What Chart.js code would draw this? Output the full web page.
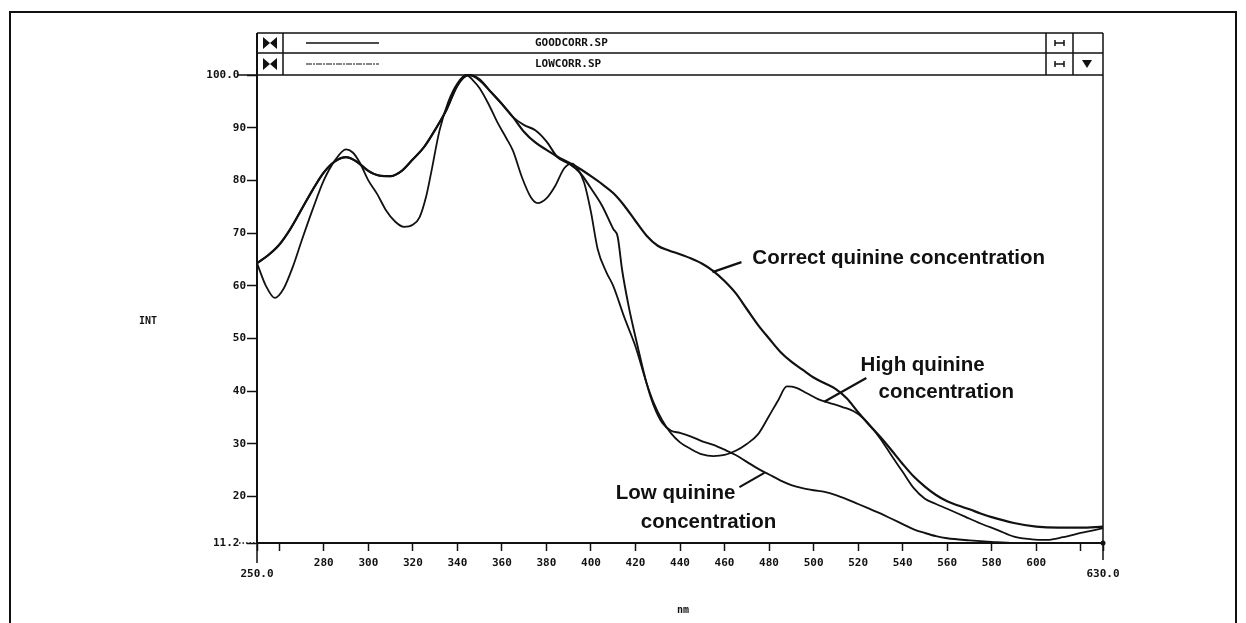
<!DOCTYPE html>
<html>
<head>
<meta charset="utf-8">
<title>Quinine spectra</title>
<script src="https://cdn.jsdelivr.net/npm/chart.js"></script>
<style>
  html, body { margin: 0; padding: 0; background: #fff; }
  #wrap { width: 1246px; height: 623px; position: relative; }
</style>
</head>
<body>
<div id="wrap"><canvas id="spectre"></canvas></div>

<script>
  // Spectres (nm -> INT)
  const nmGood = [250, 255, 260, 265, 270, 275, 280, 285, 290, 295, 300, 305, 310, 315, 320, 325, 330, 335, 340, 345,
    350, 355, 360, 365, 370, 375, 380, 385, 390, 395, 400, 405, 410, 415, 420, 425, 430, 435, 440, 445, 450, 455,
    460, 465, 470, 475, 480, 485, 490, 495, 500, 505, 510, 515, 520, 525, 530, 535, 540, 545, 550, 555, 560, 565,
    570, 575, 580, 590, 600, 610, 620, 630];
  const intGood = [64.3, 65.8, 67.8, 70.8, 74.5, 78.2, 81.5, 83.6, 84.4, 83.5, 81.8, 80.9, 80.8, 81.8, 84, 86.3, 89.6, 93.3, 98, 100,
    99, 96.8, 94.5, 92, 89.2, 87.2, 85.8, 84.5, 83.4, 82.2, 80.8, 79.3, 77.6, 75.2, 72.3, 69.5, 67.6, 66.7, 66, 65.2, 64.2, 62.8,
    60.9, 58.6, 55.6, 52.6, 50, 47.5, 45.6, 44.1, 42.6, 41.5, 40.4, 38.6, 36, 33.6, 31.3, 28.8, 26.2, 23.8, 21.9, 20.3, 19.1, 18.3,
    17.6, 16.8, 16.1, 15, 14.3, 14.1, 14.1, 14.3];

  const nmLow = [250, 255, 260, 265, 270, 275, 280, 285, 290, 295, 300, 305, 310, 315, 320, 325, 330, 335, 340, 345,
    350, 355, 360, 365, 370, 375, 380, 385, 390, 395, 400, 405, 410, 412, 414, 417, 420, 425, 428, 432, 436, 440,
    445, 450, 455, 460, 465, 470, 475, 480, 485, 490, 495, 500, 505, 510, 515, 520, 525, 530, 535, 540, 545, 550,
    555, 560, 570, 580, 590, 600, 610, 620, 630];
  const intLow = [64.3, 65.8, 67.8, 70.8, 74.5, 78.2, 81.5, 83.6, 84.4, 83.5, 81.8, 80.9, 80.8, 81.8, 84, 86.3, 89.6, 93.3, 98, 100,
    99.2, 96.8, 94.5, 92, 90.5, 89.5, 87.4, 84.4, 83.2, 81.5, 78.5, 75.2, 70.8, 69.3, 63, 56, 50.3, 41.5, 37.5, 34, 32.5, 32.1,
    31.4, 30.5, 29.8, 28.9, 27.9, 26.6, 25.3, 24.2, 23.1, 22.2, 21.6, 21.2, 20.9, 20.3, 19.5, 18.6, 17.7, 16.8, 15.8, 14.8, 13.8, 13.1,
    12.5, 12.1, 11.7, 11.4, 11.2, 11.2, 11.2, 11.2, 11.2];

  const nmHigh = [250, 254, 258, 262, 266, 270, 275, 280, 285, 290, 293, 296, 300, 304, 308, 312, 316, 320, 323, 326,
    328, 332, 336, 340, 344, 347, 350, 354, 358, 362, 365, 369, 373, 376, 380, 384, 388, 391.5, 394, 397, 400, 403,
    407, 410, 415, 420, 425, 428, 432, 436, 440, 445, 450, 455, 460, 465, 470, 475, 480, 484, 488, 492, 497, 502,
    507, 513, 518, 522, 526, 530, 535, 540, 545, 550, 555, 560, 568, 575, 583, 590, 598, 605, 612, 620, 630];
  const intHigh = [64.3, 60, 57.7, 59.5, 63.5, 68.5, 74.5, 80, 83.8, 85.9, 85.3, 83.5, 80, 77.4, 74.3, 72.2, 71.2, 71.6, 73, 77,
    81, 89.5, 95, 98.4, 100, 99, 97.5, 94.5, 91, 88, 85.6, 80.6, 76.8, 75.7, 76.6, 79, 82.3, 83.2, 82.2, 79.5, 74, 67,
    62.5, 60, 54, 48.5, 41.5, 38, 34.5, 32, 30.3, 29, 28, 27.7, 27.9, 28.7, 30, 31.8, 35.3, 38.2, 40.9, 40.7, 39.6, 38.5,
    37.8, 37, 36.2, 35, 33.2, 31, 27.8, 24.7, 21.6, 19.6, 18.6, 17.7, 16.2, 14.9, 13.6, 12.4, 11.9, 11.8, 12.3, 13.1, 14];

  // Graduations
  const xTicks = [250, 260, 280, 300, 320, 340, 360, 380, 400, 420, 440, 460, 480, 500, 520, 540, 560, 580, 600, 620, 630];
  const yTicks = [11.2, 20, 30, 40, 50, 60, 70, 80, 90, 100];
  const fileNames = ['GOODCORR.SP', 'LOWCORR.SP'];

  const ink = '#111';
  const plotFont = '"DejaVu Sans Mono", "Liberation Mono", monospace';
  const noteFont = '"Liberation Sans", Arial, sans-serif';

  function toPoints(xs, ys) {
    return xs.map((x, i) => ({ x: x, y: ys[i] }));
  }

  function xLabel(v) {
    if (v === 250) return ['', '250.0'];
    if (v === 630) return ['', '630.0'];
    if (v === 260 || v === 620) return '';
    return String(v);
  }

  function yLabel(v) {
    if (v === 100) return '100.0 ';
    if (v === 11.2) return '11.2 ';
    return String(v);
  }

  // Cadre, en-tête des fichiers, légendes manuscrites
  const decor = {
    id: 'decor',
    afterDraw(chart) {
      const ctx = chart.ctx;
      const a = chart.chartArea;
      const xs = chart.scales.x, ys = chart.scales.y;
      const px = v => xs.getPixelForValue(v);
      const py = v => ys.getPixelForValue(v);

      ctx.save();
      ctx.strokeStyle = ink;
      ctx.fillStyle = ink;

      // cadre extérieur
      ctx.lineWidth = 2;
      ctx.beginPath();
      ctx.moveTo(10, 640); ctx.lineTo(10, 12); ctx.lineTo(1236, 12); ctx.lineTo(1236, 640);
      ctx.stroke();

      // en-tête
      const hTop = 33, hMid = 53, hBot = a.top;
      ctx.lineWidth = 1.5;
      ctx.beginPath();
      ctx.moveTo(a.left, hTop); ctx.lineTo(a.right, hTop);
      ctx.moveTo(a.left, hMid); ctx.lineTo(a.right, hMid);
      ctx.moveTo(a.left, hBot); ctx.lineTo(a.right, hBot);
      [a.left, 283, 1046, 1073, a.right].forEach(x => { ctx.moveTo(x, hTop); ctx.lineTo(x, hBot); });
      ctx.moveTo(a.right, hBot); ctx.lineTo(a.right, a.bottom + 17);
      ctx.stroke();

      [[hTop, hMid], [hMid, hBot]].forEach(([t, b], i) => {
        const cy = (t + b) / 2;
        // noeud papillon
        ctx.beginPath();
        ctx.moveTo(263, cy - 6); ctx.lineTo(270, cy); ctx.lineTo(263, cy + 6); ctx.closePath();
        ctx.moveTo(277, cy - 6); ctx.lineTo(270, cy); ctx.lineTo(277, cy + 6); ctx.closePath();
        ctx.fill();
        // échantillon de trait
        ctx.lineWidth = i === 0 ? 1.6 : 1.2;
        ctx.setLineDash(i === 0 ? [] : [6, 1, 2, 1]);
        ctx.beginPath(); ctx.moveTo(306, cy); ctx.lineTo(379, cy); ctx.stroke();
        ctx.setLineDash([]);
        // nom du fichier
        ctx.font = 'bold 11px ' + plotFont;
        ctx.textAlign = 'left'; ctx.textBaseline = 'middle';
        ctx.fillText(fileNames[i], 535, cy);
        // symbole |-|
        ctx.lineWidth = 1.5;
        ctx.beginPath();
        ctx.moveTo(1055, cy); ctx.lineTo(1064, cy);
        ctx.moveTo(1055, cy - 3); ctx.lineTo(1055, cy + 3);
        ctx.moveTo(1064, cy - 3); ctx.lineTo(1064, cy + 3);
        ctx.stroke();
      });
      // flèche vers le bas
      const cy2 = (hMid + hBot) / 2;
      ctx.beginPath();
      ctx.moveTo(1082, cy2 - 4); ctx.lineTo(1092, cy2 - 4); ctx.lineTo(1087, cy2 + 4); ctx.closePath();
      ctx.fill();

      // axe gauche prolongé dans l'en-tête
      ctx.lineWidth = 2;
      ctx.beginPath(); ctx.moveTo(a.left, hTop); ctx.lineTo(a.left, a.bottom); ctx.stroke();

      // graduations spéciales
      ctx.lineWidth = 1.5;
      ctx.beginPath();
      ctx.moveTo(237, py(100)); ctx.lineTo(a.left, py(100));
      ctx.moveTo(px(250), a.bottom); ctx.lineTo(px(250), a.bottom + 20);
      ctx.stroke();
      ctx.setLineDash([1.5, 2]);
      ctx.beginPath(); ctx.moveTo(239, py(11.2)); ctx.lineTo(a.left, py(11.2)); ctx.stroke();
      ctx.setLineDash([]);
      ctx.beginPath(); ctx.arc(px(630), py(11.2), 2.5, 0, Math.PI * 2); ctx.fill();

      // titres d'axes
      ctx.font = 'bold 10px ' + plotFont;
      ctx.textAlign = 'center'; ctx.textBaseline = 'middle';
      ctx.fillText('INT', 148, 321);
      ctx.fillText('nm', 683, 610);

      // annotations
      ctx.font = 'bold 20.5px ' + noteFont;
      ctx.textBaseline = 'middle';
      ctx.textAlign = 'left';
      ctx.fillText('Correct quinine concentration', px(472.5), py(65.3));
      ctx.textAlign = 'center';
      ctx.fillText('High quinine', px(549), py(45));
      ctx.fillText('concentration', px(559.6), py(39.7));
      ctx.fillText('Low quinine', px(438), py(20.7));
      ctx.fillText('concentration', px(452.8), py(15.2));

      ctx.lineWidth = 2.2;
      ctx.beginPath();
      ctx.moveTo(px(467.6), py(64.5)); ctx.lineTo(px(454.6), py(62.6));
      ctx.moveTo(px(523.7), py(42.5)); ctx.lineTo(px(504.8), py(38));
      ctx.moveTo(px(466.7), py(21.8)); ctx.lineTo(px(477.9), py(24.5));
      ctx.stroke();
      ctx.restore();
    }
  };

  const ticksFont = { family: plotFont, size: 11, weight: 'bold', lineHeight: 0.95 };

  new Chart(document.getElementById('spectre'), {
    type: 'line',
    data: {
      datasets: [
        { label: 'GOODCORR.SP', data: toPoints(nmGood, intGood), borderWidth: 2.2 },
        { label: 'LOWCORR.SP', data: toPoints(nmLow, intLow), borderWidth: 1.9 },
        { label: 'High', data: toPoints(nmHigh, intHigh), borderWidth: 1.8 }
      ]
    },
    options: {
      responsive: true,
      maintainAspectRatio: false,
      animation: false,
      layout: { padding: { left: 0, top: 75, right: 143, bottom: 30 } },
      elements: {
        point: { radius: 0 },
        line: { borderColor: ink, cubicInterpolationMode: 'monotone', fill: false }
      },
      datasets: { line: { clip: 3 } },
      plugins: { legend: { display: false }, tooltip: { enabled: false } },
      scales: {
        x: {
          type: 'linear', min: 250, max: 630,
          afterBuildTicks: s => { s.ticks = xTicks.map(v => ({ value: v })); },
          afterFit: s => { s.height = 50; },
          ticks: { callback: xLabel, autoSkip: false, maxRotation: 0, padding: 7, color: ink, font: ticksFont },
          grid: { drawOnChartArea: false, tickLength: 8, tickColor: ink, tickWidth: 1.5 },
          border: { color: ink, width: 2 }
        },
        y: {
          type: 'linear', min: 11.2, max: 100,
          afterBuildTicks: s => { s.ticks = yTicks.map(v => ({ value: v })); },
          afterFit: s => { s.width = 257; },
          ticks: { callback: yLabel, autoSkip: false, padding: 1, color: ink, font: ticksFont },
          grid: { drawOnChartArea: false, tickLength: 10, tickColor: ink, tickWidth: 1.5 },
          border: { color: ink, width: 2 }
        }
      }
    },
    plugins: [decor]
  });
</script>
</body>
</html>
